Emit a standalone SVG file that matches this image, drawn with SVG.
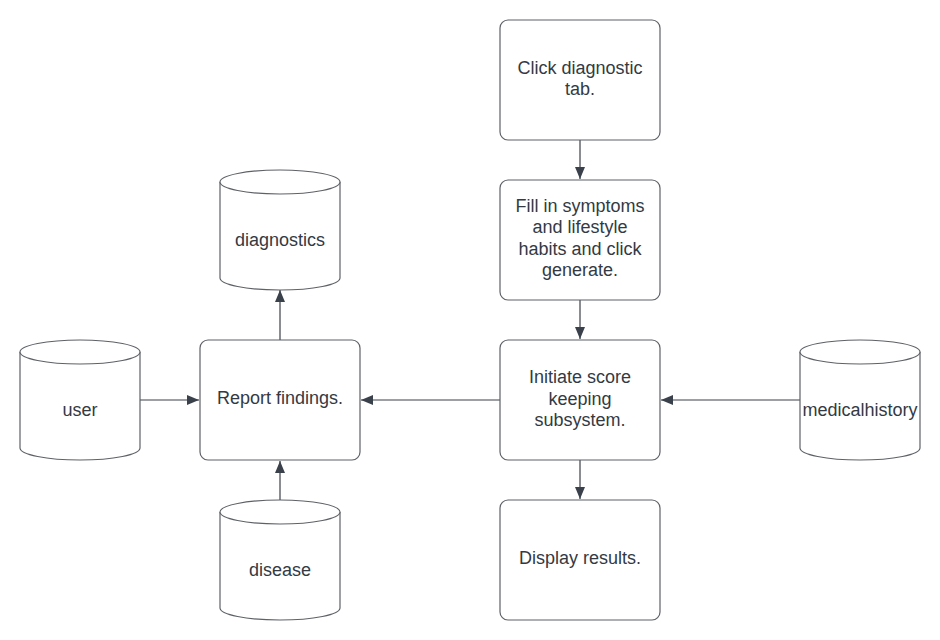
<svg xmlns="http://www.w3.org/2000/svg" width="940" height="640" viewBox="0 0 940 640">
<style>
.box{fill:#fff;stroke:#5e6166;stroke-width:1.2}
.cyl{fill:#fff;stroke:#5e6166;stroke-width:1.2}
.t{font-family:"Liberation Sans",Arial,sans-serif;font-size:18px;fill:#333a44;text-anchor:middle;dominant-baseline:central}
.c{stroke:#3a414a;stroke-width:1.2;fill:none;marker-end:url(#ah)}
</style>
<defs>
<marker id="ah" viewBox="0 0 12 10" refX="12" refY="5" markerWidth="12" markerHeight="10" markerUnits="userSpaceOnUse" orient="auto">
<path d="M0,0 L12,5 L0,10 Z" fill="#3a414a"/>
</marker>
</defs>
<rect width="940" height="640" fill="#fff"/>
<g id="connectors">
<line class="c" x1="580" y1="140" x2="580" y2="179"/>
<line class="c" x1="580" y1="300" x2="580" y2="339"/>
<line class="c" x1="580" y1="460" x2="580" y2="499"/>
<line class="c" x1="500" y1="400" x2="361" y2="400"/>
<line class="c" x1="800" y1="400" x2="661" y2="400"/>
<line class="c" x1="140" y1="400" x2="199" y2="400"/>
<line class="c" x1="280" y1="340" x2="280" y2="290"/>
<line class="c" x1="280" y1="500" x2="280" y2="461"/>
</g>
<g id="click">
<rect class="box" x="500" y="20" width="160" height="120" rx="8"/>
<text class="t" x="580" y="68">Click diagnostic</text>
<text class="t" x="580" y="89">tab.</text>
</g>
<g id="fill">
<rect class="box" x="500" y="180" width="160" height="120" rx="8"/>
<text class="t" x="580" y="206">Fill in symptoms</text>
<text class="t" x="580" y="227">and lifestyle</text>
<text class="t" x="580" y="249">habits and click</text>
<text class="t" x="580" y="270">generate.</text>
</g>
<g id="initiate">
<rect class="box" x="500" y="340" width="160" height="120" rx="8"/>
<text class="t" x="580" y="377">Initiate score</text>
<text class="t" x="580" y="399">keeping</text>
<text class="t" x="580" y="420">subsystem.</text>
</g>
<g id="display">
<rect class="box" x="500" y="500" width="160" height="120" rx="8"/>
<text class="t" x="580" y="558">Display results.</text>
</g>
<g id="report">
<rect class="box" x="200" y="340" width="160" height="120" rx="8"/>
<text class="t" x="280" y="398">Report findings.</text>
</g>
<g id="diagnostics">
<path class="cyl" d="M220,182 A60,12 0 0 1 340,182 L340,278 A60,12 0 0 1 220,278 Z"/>
<path class="cyl" fill="none" d="M220,182 A60,12 0 0 0 340,182"/>
<text class="t" x="280" y="240">diagnostics</text>
</g>
<g id="user">
<path class="cyl" d="M20,352 A60,12 0 0 1 140,352 L140,448 A60,12 0 0 1 20,448 Z"/>
<path class="cyl" fill="none" d="M20,352 A60,12 0 0 0 140,352"/>
<text class="t" x="80" y="410">user</text>
</g>
<g id="disease">
<path class="cyl" d="M220,512 A60,12 0 0 1 340,512 L340,608 A60,12 0 0 1 220,608 Z"/>
<path class="cyl" fill="none" d="M220,512 A60,12 0 0 0 340,512"/>
<text class="t" x="280" y="570">disease</text>
</g>
<g id="medicalhistory">
<path class="cyl" d="M800,352 A60,12 0 0 1 920,352 L920,448 A60,12 0 0 1 800,448 Z"/>
<path class="cyl" fill="none" d="M800,352 A60,12 0 0 0 920,352"/>
<text class="t" x="860" y="410">medicalhistory</text>
</g>
</svg>
